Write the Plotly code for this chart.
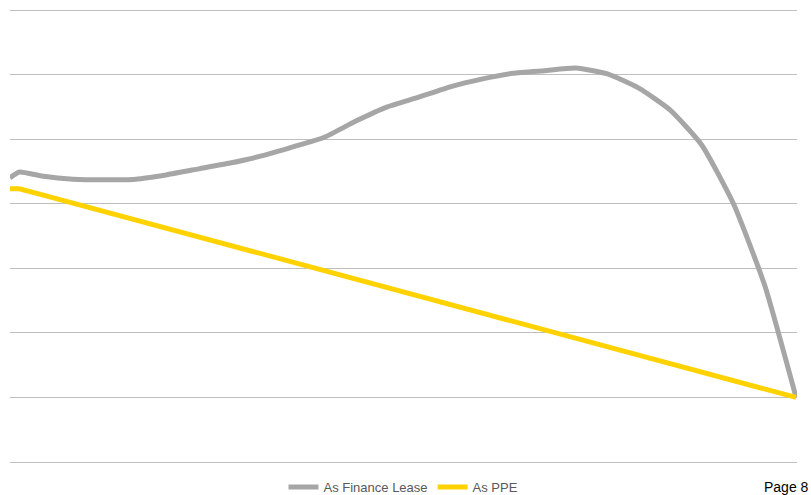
import plotly.graph_objects as go

periods = [0, 0.3] + list(range(1, 26))

finance_lease = [4.40, 4.49, 4.43, 4.38, 4.37, 4.38, 4.45, 4.54, 4.63, 4.74, 4.88,
                 5.03, 5.28, 5.50, 5.65, 5.81, 5.93, 6.02, 6.06, 6.10, 6.01,
                 5.79, 5.45, 4.91, 4.01, 2.74, 1.00]

ppe = [4.23, 4.23, 4.14, 4.01, 3.88, 3.75, 3.62, 3.48, 3.35, 3.22, 3.09,
       2.96, 2.83, 2.70, 2.57, 2.44, 2.31, 2.18, 2.05, 1.92, 1.79,
       1.65, 1.52, 1.39, 1.26, 1.13, 1.00]

grid_values = [0, 1, 2, 3, 4, 5, 6, 7]

fig = go.Figure()
fig.add_trace(go.Scatter(x=periods, y=finance_lease, mode="lines", name="As Finance Lease",
                         line=dict(color="#A6A6A6", width=5, shape="spline", smoothing=0.5)))
fig.add_trace(go.Scatter(x=periods, y=ppe, mode="lines", name="As PPE",
                         line=dict(color="#FFD200", width=5)))

fig.update_layout(
    width=811, height=495,
    margin=dict(l=10, r=14, t=7, b=30, autoexpand=False),
    paper_bgcolor="white", plot_bgcolor="white",
    font=dict(family="Liberation Sans, Arial, sans-serif", size=13, color="#595959"),
    showlegend=True,
    legend=dict(orientation="h", x=0.5, xanchor="center", y=-0.048, yanchor="middle",
                font=dict(size=13, color="#595959"), itemwidth=30,
                bgcolor="rgba(0,0,0,0)", tracegroupgap=0),
    xaxis=dict(range=[0, 25.03], showgrid=False, zeroline=False, showticklabels=False,
               showline=False, ticks=""),
    yaxis=dict(range=[-0.0465, 7.0465], tickmode="array", tickvals=grid_values,
               showgrid=True, gridcolor="#BFBFBF", gridwidth=1,
               zeroline=False, showticklabels=False, showline=False, ticks=""),
    annotations=[dict(text="Page 8", x=1, xref="paper", xanchor="right",
                      y=-0.048, yref="paper", yanchor="middle", showarrow=False,
                      xshift=14, font=dict(size=14, color="#000000"))],
)

fig.write_html("out.html")
